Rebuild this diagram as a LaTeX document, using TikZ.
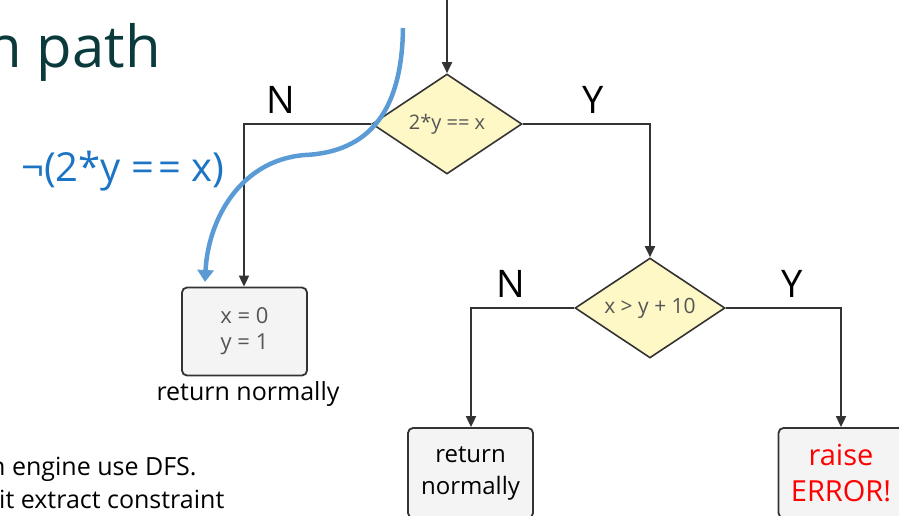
\documentclass[tikz,border=0pt]{standalone}
\usepackage{fontspec}
\setmainfont{Open Sans}
\usetikzlibrary{shapes.geometric,arrows.meta}
\definecolor{titlecol}{HTML}{0B3A3C}
\definecolor{bluelab}{HTML}{1C74C4}
\definecolor{bluecurve}{HTML}{5B9BD5}
\definecolor{linecol}{HTML}{333333}
\definecolor{diafill}{HTML}{FDF8C6}
\definecolor{boxfill}{HTML}{F4F4F4}
\definecolor{graytext}{HTML}{555555}
\tikzset{
  decision/.style={diamond, draw=linecol, line width=1.6pt, fill=diafill, inner sep=0pt,
    minimum width=150pt, minimum height=100pt},
  dtext/.style={text=graytext, inner sep=0pt},
  resultbox/.style={draw=linecol, line width=1.8pt, fill=boxfill, rounded corners=5pt,
    minimum width=125pt, align=center},
  flow/.style={draw=linecol, line width=1.8pt, -{Triangle[length=11pt,width=10pt]}},
  branch/.style={font=\fontsize{38}{40}\selectfont, text=black},
}
\begin{document}
\begin{tikzpicture}[x=1pt,y=-1pt]
\useasboundingbox (0,0) rectangle (899,515);
% title
\node[anchor=base west, inner sep=0pt, text=titlecol, font=\fontsize{58}{60}\selectfont] (title) at (-14,67) {n path};
% decisions
\coordinate (top) at (447,0);
\node[decision] (d1) at (447,124) {};
\node[dtext, font=\fontsize{20}{22}\selectfont] (d1t) at (d1) {2*y == x};
\node[decision] (d2) at (650,308) {};
\node[dtext, font=\fontsize{21}{22}\selectfont] (d2t) at (d2) {x > y + 10};
% boxes
\node[resultbox, minimum height=88pt, text=graytext, font=\fontsize{22}{26}\selectfont] (b1) at (244.5,331.5) {x = 0\\y = 1};
\node[font=\fontsize{25}{27}\selectfont] (rn1) at (248,394) {return normally};
\node[resultbox, minimum height=90pt, font=\fontsize{24}{32}\selectfont] (b2) at (470.5,473) {return\\normally};
\node[resultbox, minimum height=90pt, text=red, font=\fontsize{29}{36}\selectfont] (b3) at (841,473) {raise\\ERROR!};
% connectors
\coordinate (c1) at (244,124);
\coordinate (c2) at (650,124);
\coordinate (c3) at (471,308);
\coordinate (c4) at (841,308);
\draw[flow] (top) -- (d1.north);
\draw[flow] (d1.west) -- (c1) -- (b1.north -| c1);
\draw[flow] (d1.east) -- (c2) -- (d2.north);
\draw[flow] (d2.west) -- (c3) -- (b2.north -| c3);
\draw[flow] (d2.east) -- (c4) -- (b3.north -| c4);
% branch labels
\node[branch] (n1) at (281,100) {N};
\node[branch] (y1) at (593,100) {Y};
\node[branch] (n2) at (511,284) {N};
\node[branch] (y2) at (792,284) {Y};
% blue path
\node[text=bluelab, font=\fontsize{40}{42}\selectfont, anchor=west, inner sep=0pt] (neg) at (21,171) {¬(2*y =\kern4pt= x)};
\coordinate (bs) at (403,28);
\coordinate (bm) at (305,155);
\coordinate (be) at (205,282);
\draw[bluecurve, line width=4.5pt, -{Triangle[length=12pt,width=16pt]}]
  (bs) .. controls (402,110) and (370,152) .. (bm)
  .. controls (240,160) and (208,220) .. (be);
% bottom text
\node[anchor=base west, inner sep=0pt, font=\fontsize{25}{28}\selectfont] (t1) at (-10,475) {n engine use DFS.};
\node[anchor=base west, inner sep=0pt, font=\fontsize{25}{28}\selectfont] (t2) at (-1,508) {it extract constraint};
\end{tikzpicture}
\end{document}
